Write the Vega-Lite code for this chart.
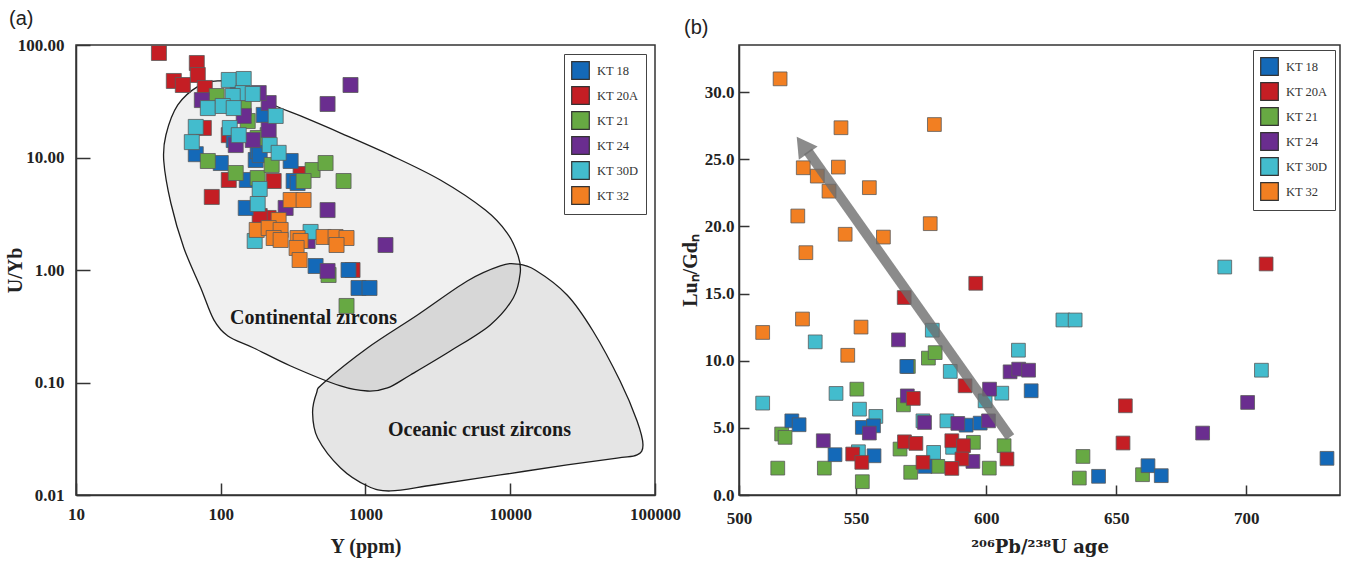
{
  "$schema": "https://vega.github.io/schema/vega-lite/v6.json",
  "background": "white",
  "padding": {"left": 4, "top": 8, "right": 5, "bottom": 5},
  "bounds": "flush",
  "spacing": 84,
  "datasets": {
    "zirconA": [
      {"s": "KT 20A", "Y": 37.4, "UYb": 84.9}, {"s": "KT 20A", "Y": 68.3, "UYb": 69.2}, {"s": "KT 20A", "Y": 69.4, "UYb": 54.1},
      {"s": "KT 20A", "Y": 47.4, "UYb": 47.9}, {"s": "KT 20A", "Y": 54.7, "UYb": 44.1}, {"s": "KT 20A", "Y": 77.6, "UYb": 41.5},
      {"s": "KT 20A", "Y": 76.4, "UYb": 18.3}, {"s": "KT 20A", "Y": 113.6, "UYb": 15.8}, {"s": "KT 20A", "Y": 113.6, "UYb": 6.31},
      {"s": "KT 20A", "Y": 232.1, "UYb": 6.18}, {"s": "KT 20A", "Y": 86.7, "UYb": 4.46}, {"s": "KT 20A", "Y": 356.2, "UYb": 7.13},
      {"s": "KT 20A", "Y": 813.6, "UYb": 1.0}, {"s": "KT 20A", "Y": 214.3, "UYb": 2.9}, {"s": "KT 20A", "Y": 185.8, "UYb": 3.02},
      {"s": "KT 18", "Y": 67.2, "UYb": 10.7}, {"s": "KT 18", "Y": 100, "UYb": 8.93}, {"s": "KT 18", "Y": 151.2, "UYb": 6.31},
      {"s": "KT 18", "Y": 174.4, "UYb": 9.5}, {"s": "KT 18", "Y": 304, "UYb": 9.31}, {"s": "KT 18", "Y": 318.8, "UYb": 6.18},
      {"s": "KT 18", "Y": 148.8, "UYb": 3.56}, {"s": "KT 18", "Y": 198.1, "UYb": 23.9}, {"s": "KT 18", "Y": 122.9, "UYb": 14.3},
      {"s": "KT 18", "Y": 452, "UYb": 1.085}, {"s": "KT 18", "Y": 894.7, "UYb": 0.692}, {"s": "KT 18", "Y": 1066, "UYb": 0.692},
      {"s": "KT 18", "Y": 763.5, "UYb": 1.0}, {"s": "KT 18", "Y": 180, "UYb": 11.4}, {"s": "KT 18", "Y": 131, "UYb": 39.0},
      {"s": "KT 18", "Y": 339.6, "UYb": 5.93}, {"s": "KT 18", "Y": 185.8, "UYb": 10.5},
      {"s": "KT 21", "Y": 93.8, "UYb": 35.2}, {"s": "KT 21", "Y": 81.4, "UYb": 9.31}, {"s": "KT 21", "Y": 126.9, "UYb": 7.28},
      {"s": "KT 21", "Y": 180, "UYb": 6.57}, {"s": "KT 21", "Y": 224.8, "UYb": 8.58}, {"s": "KT 21", "Y": 431, "UYb": 7.74},
      {"s": "KT 21", "Y": 529.9, "UYb": 8.93}, {"s": "KT 21", "Y": 373.5, "UYb": 6.18}, {"s": "KT 21", "Y": 705.3, "UYb": 6.18},
      {"s": "KT 21", "Y": 153.6, "UYb": 21.1}, {"s": "KT 21", "Y": 211, "UYb": 15.8}, {"s": "KT 21", "Y": 144.1, "UYb": 27.5},
      {"s": "KT 21", "Y": 739.6, "UYb": 0.479}, {"s": "KT 21", "Y": 555.8, "UYb": 0.903}, {"s": "KT 21", "Y": 180, "UYb": 14.9},
      {"s": "KT 24", "Y": 74.0, "UYb": 32.4}, {"s": "KT 24", "Y": 788.1, "UYb": 44.1}, {"s": "KT 24", "Y": 547, "UYb": 29.9},
      {"s": "KT 24", "Y": 214.3, "UYb": 30.5}, {"s": "KT 24", "Y": 182.9, "UYb": 37.4}, {"s": "KT 24", "Y": 144.1, "UYb": 23.4},
      {"s": "KT 24", "Y": 214.3, "UYb": 17.6}, {"s": "KT 24", "Y": 166.3, "UYb": 14.3}, {"s": "KT 24", "Y": 126.9, "UYb": 12.9},
      {"s": "KT 24", "Y": 547, "UYb": 3.41}, {"s": "KT 24", "Y": 1374, "UYb": 1.668}, {"s": "KT 24", "Y": 280.7, "UYb": 3.56},
      {"s": "KT 24", "Y": 547, "UYb": 0.98}, {"s": "KT 24", "Y": 398.1, "UYb": 1.811},
      {"s": "KT 30D", "Y": 113.6, "UYb": 48.9}, {"s": "KT 30D", "Y": 144.1, "UYb": 49.9}, {"s": "KT 30D", "Y": 141.8, "UYb": 37.4},
      {"s": "KT 30D", "Y": 166.3, "UYb": 36.7}, {"s": "KT 30D", "Y": 121, "UYb": 35.2}, {"s": "KT 30D", "Y": 81.4, "UYb": 27.5},
      {"s": "KT 30D", "Y": 103.2, "UYb": 28.7}, {"s": "KT 30D", "Y": 122.9, "UYb": 27.5}, {"s": "KT 30D", "Y": 67.2, "UYb": 18.7},
      {"s": "KT 30D", "Y": 63.1, "UYb": 13.7}, {"s": "KT 30D", "Y": 239.6, "UYb": 23.4}, {"s": "KT 30D", "Y": 115.4, "UYb": 18.3},
      {"s": "KT 30D", "Y": 133.1, "UYb": 15.8}, {"s": "KT 30D", "Y": 217.8, "UYb": 12.9}, {"s": "KT 30D", "Y": 251.2, "UYb": 11.0},
      {"s": "KT 30D", "Y": 185.8, "UYb": 5.25}, {"s": "KT 30D", "Y": 180, "UYb": 3.86}, {"s": "KT 30D", "Y": 171.6, "UYb": 1.811},
      {"s": "KT 30D", "Y": 417.5, "UYb": 2.18},
      {"s": "KT 32", "Y": 304, "UYb": 4.19}, {"s": "KT 32", "Y": 373.5, "UYb": 4.19}, {"s": "KT 32", "Y": 251.2, "UYb": 2.78},
      {"s": "KT 32", "Y": 177.2, "UYb": 2.27}, {"s": "KT 32", "Y": 214.3, "UYb": 2.36}, {"s": "KT 32", "Y": 259.3, "UYb": 2.27},
      {"s": "KT 32", "Y": 232.1, "UYb": 1.925}, {"s": "KT 32", "Y": 259.3, "UYb": 1.848}, {"s": "KT 32", "Y": 339.6, "UYb": 1.925},
      {"s": "KT 32", "Y": 356.2, "UYb": 1.811}, {"s": "KT 32", "Y": 334.3, "UYb": 1.569}, {"s": "KT 32", "Y": 350.6, "UYb": 1.227},
      {"s": "KT 32", "Y": 513.3, "UYb": 1.965}, {"s": "KT 32", "Y": 621, "UYb": 1.965}, {"s": "KT 32", "Y": 739.6, "UYb": 1.925},
      {"s": "KT 32", "Y": 631, "UYb": 1.668}
    ],
    "contA": [
      {"i": 0, "Y": 95.3, "UYb": 47.9}, {"i": 1, "Y": 123, "UYb": 45.0}, {"i": 2, "Y": 232, "UYb": 29.3},
      {"i": 3, "Y": 356, "UYb": 23.4}, {"i": 4, "Y": 673, "UYb": 16.5}, {"i": 5, "Y": 1486, "UYb": 10.5},
      {"i": 6, "Y": 3289, "UYb": 6.31}, {"i": 7, "Y": 6730, "UYb": 3.41}, {"i": 8, "Y": 9530, "UYb": 2.13},
      {"i": 9, "Y": 11350, "UYb": 1.33}, {"i": 10, "Y": 11720, "UYb": 0.94}, {"i": 11, "Y": 10490, "UYb": 0.564},
      {"i": 12, "Y": 7280, "UYb": 0.325}, {"i": 13, "Y": 3855, "UYb": 0.1905}, {"i": 14, "Y": 2042, "UYb": 0.1167},
      {"i": 15, "Y": 1419, "UYb": 0.0894}, {"i": 16, "Y": 1032, "UYb": 0.084}, {"i": 17, "Y": 673, "UYb": 0.0931},
      {"i": 18, "Y": 304, "UYb": 0.1402}, {"i": 19, "Y": 169, "UYb": 0.2027}, {"i": 20, "Y": 112, "UYb": 0.259},
      {"i": 21, "Y": 89.6, "UYb": 0.36}, {"i": 22, "Y": 72.8, "UYb": 0.692}, {"i": 23, "Y": 55.6, "UYb": 1.571},
      {"i": 24, "Y": 45.2, "UYb": 3.94}, {"i": 25, "Y": 40.4, "UYb": 9.31}, {"i": 26, "Y": 41.8, "UYb": 15.85},
      {"i": 27, "Y": 50.5, "UYb": 29.3}, {"i": 28, "Y": 70.5, "UYb": 43.3}
    ],
    "oceanA": [
      {"i": 0, "Y": 513, "UYb": 0.099}, {"i": 1, "Y": 1032, "UYb": 0.2027}, {"i": 2, "Y": 2286, "UYb": 0.398},
      {"i": 3, "Y": 5047, "UYb": 0.798}, {"i": 4, "Y": 8530, "UYb": 1.086}, {"i": 5, "Y": 11170, "UYb": 1.13},
      {"i": 6, "Y": 14860, "UYb": 1.0}, {"i": 7, "Y": 24700, "UYb": 0.6}, {"i": 8, "Y": 37300, "UYb": 0.287},
      {"i": 9, "Y": 57400, "UYb": 0.1031}, {"i": 10, "Y": 75200, "UYb": 0.0455}, {"i": 11, "Y": 82600, "UYb": 0.0278},
      {"i": 12, "Y": 75200, "UYb": 0.0227}, {"i": 13, "Y": 54700, "UYb": 0.0213}, {"i": 14, "Y": 24700, "UYb": 0.0185},
      {"i": 15, "Y": 8530, "UYb": 0.01507}, {"i": 16, "Y": 2944, "UYb": 0.01227}, {"i": 17, "Y": 1486, "UYb": 0.01086},
      {"i": 18, "Y": 1032, "UYb": 0.01202}, {"i": 19, "Y": 673, "UYb": 0.01738}, {"i": 20, "Y": 467, "UYb": 0.0321},
      {"i": 21, "Y": 431, "UYb": 0.0536}, {"i": 22, "Y": 459, "UYb": 0.0807}
    ],
    "labelsA": [
      {"t": "Continental zircons", "Y": 437.5, "UYb": 0.3745},
      {"t": "Oceanic crust zircons", "Y": 6133, "UYb": 0.03805}
    ],
    "zirconB": [
      {"s": "KT 32", "age": 520.8, "LuGd": 30.98}, {"s": "KT 32", "age": 544.2, "LuGd": 27.34}, {"s": "KT 32", "age": 580.1, "LuGd": 27.58},
      {"s": "KT 32", "age": 529.7, "LuGd": 24.36}, {"s": "KT 32", "age": 535.1, "LuGd": 23.74}, {"s": "KT 32", "age": 543.2, "LuGd": 24.41},
      {"s": "KT 32", "age": 539.6, "LuGd": 22.62}, {"s": "KT 32", "age": 555.1, "LuGd": 22.88}, {"s": "KT 32", "age": 527.6, "LuGd": 20.77},
      {"s": "KT 32", "age": 545.8, "LuGd": 19.41}, {"s": "KT 32", "age": 560.5, "LuGd": 19.2}, {"s": "KT 32", "age": 578.5, "LuGd": 20.2},
      {"s": "KT 32", "age": 530.7, "LuGd": 18.04}, {"s": "KT 32", "age": 514.1, "LuGd": 12.1}, {"s": "KT 32", "age": 529.4, "LuGd": 13.1},
      {"s": "KT 32", "age": 546.8, "LuGd": 10.4}, {"s": "KT 32", "age": 551.9, "LuGd": 12.5},
      {"s": "KT 30D", "age": 514.1, "LuGd": 6.84}, {"s": "KT 30D", "age": 534.3, "LuGd": 11.4}, {"s": "KT 30D", "age": 542.3, "LuGd": 7.56},
      {"s": "KT 30D", "age": 551.3, "LuGd": 6.39}, {"s": "KT 30D", "age": 557.6, "LuGd": 5.85}, {"s": "KT 30D", "age": 550.9, "LuGd": 3.22},
      {"s": "KT 30D", "age": 575.7, "LuGd": 5.52}, {"s": "KT 30D", "age": 579.8, "LuGd": 3.17}, {"s": "KT 30D", "age": 586.2, "LuGd": 9.2},
      {"s": "KT 30D", "age": 584.9, "LuGd": 5.52}, {"s": "KT 30D", "age": 587.1, "LuGd": 3.55}, {"s": "KT 30D", "age": 579.3, "LuGd": 12.27},
      {"s": "KT 30D", "age": 599.6, "LuGd": 7.01}, {"s": "KT 30D", "age": 606.0, "LuGd": 7.58}, {"s": "KT 30D", "age": 691.7, "LuGd": 16.97},
      {"s": "KT 30D", "age": 629.5, "LuGd": 13.03}, {"s": "KT 30D", "age": 634.2, "LuGd": 13.03}, {"s": "KT 30D", "age": 612.4, "LuGd": 10.78},
      {"s": "KT 30D", "age": 705.8, "LuGd": 9.29},
      {"s": "KT 21", "age": 521.4, "LuGd": 4.54}, {"s": "KT 21", "age": 522.7, "LuGd": 4.29}, {"s": "KT 21", "age": 519.9, "LuGd": 2.0},
      {"s": "KT 21", "age": 537.8, "LuGd": 2.0}, {"s": "KT 21", "age": 550.3, "LuGd": 7.88}, {"s": "KT 21", "age": 552.4, "LuGd": 0.99},
      {"s": "KT 21", "age": 566.9, "LuGd": 3.42}, {"s": "KT 21", "age": 568.2, "LuGd": 6.71}, {"s": "KT 21", "age": 570.1, "LuGd": 9.57},
      {"s": "KT 21", "age": 571.0, "LuGd": 1.69}, {"s": "KT 21", "age": 577.8, "LuGd": 10.19}, {"s": "KT 21", "age": 580.4, "LuGd": 10.6},
      {"s": "KT 21", "age": 581.4, "LuGd": 2.13}, {"s": "KT 21", "age": 595.1, "LuGd": 3.92}, {"s": "KT 21", "age": 601.2, "LuGd": 2.0},
      {"s": "KT 21", "age": 606.9, "LuGd": 3.67}, {"s": "KT 21", "age": 637.2, "LuGd": 2.87}, {"s": "KT 21", "age": 635.8, "LuGd": 1.26},
      {"s": "KT 21", "age": 660.1, "LuGd": 1.51},
      {"s": "KT 18", "age": 525.3, "LuGd": 5.52}, {"s": "KT 18", "age": 528.1, "LuGd": 5.23}, {"s": "KT 18", "age": 541.9, "LuGd": 3.0},
      {"s": "KT 18", "age": 552.4, "LuGd": 5.03}, {"s": "KT 18", "age": 556.7, "LuGd": 5.15}, {"s": "KT 18", "age": 556.9, "LuGd": 2.92},
      {"s": "KT 18", "age": 576.5, "LuGd": 2.13}, {"s": "KT 18", "age": 592.3, "LuGd": 5.2}, {"s": "KT 18", "age": 597.7, "LuGd": 5.35},
      {"s": "KT 18", "age": 617.3, "LuGd": 7.76}, {"s": "KT 18", "age": 662.2, "LuGd": 2.18}, {"s": "KT 18", "age": 643.2, "LuGd": 1.39},
      {"s": "KT 18", "age": 667.3, "LuGd": 1.44}, {"s": "KT 18", "age": 731.0, "LuGd": 2.73}, {"s": "KT 18", "age": 569.5, "LuGd": 9.57},
      {"s": "KT 24", "age": 537.4, "LuGd": 4.04}, {"s": "KT 24", "age": 555.1, "LuGd": 4.61}, {"s": "KT 24", "age": 566.3, "LuGd": 11.55},
      {"s": "KT 24", "age": 569.7, "LuGd": 7.38}, {"s": "KT 24", "age": 576.3, "LuGd": 5.4}, {"s": "KT 24", "age": 589.1, "LuGd": 5.33},
      {"s": "KT 24", "age": 594.9, "LuGd": 2.5}, {"s": "KT 24", "age": 600.9, "LuGd": 5.52}, {"s": "KT 24", "age": 601.3, "LuGd": 7.88},
      {"s": "KT 24", "age": 609.2, "LuGd": 9.17}, {"s": "KT 24", "age": 612.5, "LuGd": 9.37}, {"s": "KT 24", "age": 616.3, "LuGd": 9.29},
      {"s": "KT 24", "age": 700.5, "LuGd": 6.89}, {"s": "KT 24", "age": 683.2, "LuGd": 4.61},
      {"s": "KT 20A", "age": 568.5, "LuGd": 14.7}, {"s": "KT 20A", "age": 596.0, "LuGd": 15.76}, {"s": "KT 20A", "age": 572.0, "LuGd": 7.19},
      {"s": "KT 20A", "age": 568.6, "LuGd": 3.96}, {"s": "KT 20A", "age": 573.0, "LuGd": 3.84}, {"s": "KT 20A", "age": 548.7, "LuGd": 3.05},
      {"s": "KT 20A", "age": 552.2, "LuGd": 2.43}, {"s": "KT 20A", "age": 575.7, "LuGd": 2.43}, {"s": "KT 20A", "age": 586.8, "LuGd": 4.04},
      {"s": "KT 20A", "age": 591.3, "LuGd": 3.67}, {"s": "KT 20A", "age": 590.7, "LuGd": 2.68}, {"s": "KT 20A", "age": 586.8, "LuGd": 1.98},
      {"s": "KT 20A", "age": 591.9, "LuGd": 8.13}, {"s": "KT 20A", "age": 608.0, "LuGd": 2.68}, {"s": "KT 20A", "age": 707.6, "LuGd": 17.2},
      {"s": "KT 20A", "age": 653.5, "LuGd": 6.64}, {"s": "KT 20A", "age": 652.6, "LuGd": 3.87}
    ],
    "arrowB": [
      {"i": 0, "age": 609.2, "LuGd": 4.31},
      {"i": 1, "age": 531.5, "LuGd": 25.58}
    ],
    "headB": [
      {"age": 529.4, "LuGd": 26.06}
    ]
  },
  "hconcat": [
    {
      "width": 579,
      "height": 450,
      "title": {"text": "(a)", "anchor": "start", "frame": "group", "dx": -67, "offset": 7, "font": "Liberation Sans", "fontSize": 20, "fontWeight": "normal", "color": "#222"},
      "encoding": {
        "x": {"field": "Y", "type": "quantitative",
          "scale": {"type": "log", "domain": [10, 100000], "nice": false},
          "axis": {"values": [10, 100, 1000, 10000, 100000], "format": "d", "tickSize": -12, "labelPadding": 23, "labelFlush": false, "title": "Y (ppm)", "titlePadding": 14}},
        "y": {"field": "UYb", "type": "quantitative",
          "scale": {"type": "log", "domain": [0.01, 100], "nice": false},
          "axis": {"values": [0.01, 0.1, 1, 10, 100], "format": ".2f", "tickSize": -14, "labelPadding": 26, "title": "U/Yb", "titlePadding": -8}}
      },
      "layer": [
        {
          "data": {"name": "contA"},
          "mark": {"type": "line", "interpolate": "cardinal-closed", "fill": "#f0f0f0", "stroke": "#1e1e1e", "strokeWidth": 1.3},
          "encoding": {"order": {"field": "i", "type": "quantitative"}}
        },
        {
          "data": {"name": "oceanA"},
          "mark": {"type": "line", "interpolate": "cardinal-closed", "fill": "#000000", "fillOpacity": 0.1, "stroke": "#1e1e1e", "strokeWidth": 1.3},
          "encoding": {"order": {"field": "i", "type": "quantitative"}}
        },
        {
          "data": {"name": "labelsA"},
          "mark": {"type": "text", "font": "Liberation Serif", "fontSize": 20, "fontWeight": "bold", "color": "#1a1a1a", "align": "center", "baseline": "middle"},
          "encoding": {"text": {"field": "t", "type": "nominal"}}
        },
        {
          "data": {"name": "zirconA"},
          "mark": {"type": "point", "shape": "square", "filled": true, "size": 225, "stroke": "#5a5a5a", "strokeWidth": 0.8, "opacity": 1},
          "encoding": {
            "color": {"field": "s", "type": "nominal",
              "scale": {"domain": ["KT 18", "KT 20A", "KT 21", "KT 24", "KT 30D", "KT 32"], "range": ["#1469b8", "#c41e24", "#67a943", "#6a2d8f", "#43bccd", "#f27f22"]},
              "legend": {"title": null, "orient": "top-right", "offset": 9}}
          }
        }
      ]
    },
    {
      "width": 601,
      "height": 450,
      "title": {"text": "(b)", "anchor": "start", "frame": "group", "dx": -55, "offset": 7, "font": "Liberation Sans", "fontSize": 20, "fontWeight": "normal", "color": "#222"},
      "encoding": {
        "x": {"field": "age", "type": "quantitative",
          "scale": {"domain": [505, 736], "nice": false, "zero": false},
          "axis": {"values": [505, 550, 600, 650, 700], "format": "d", "labelExpr": "datum.value < 510 ? '500' : datum.label", "tickSize": -10, "labelPadding": 25, "labelFlush": false, "title": "²⁰⁶Pb/²³⁸U age", "titleFont": "DejaVu Serif", "titleFontSize": 18, "titlePadding": 12}},
        "y": {"field": "LuGd", "type": "quantitative",
          "scale": {"domain": [0, 33.5], "nice": false},
          "axis": {"values": [0, 5, 10, 15, 20, 25, 30], "format": ".1f", "tickSize": -10, "labelPadding": 15, "title": "Luₙ/Gdₙ", "titlePadding": 4}}
      },
      "layer": [
        {
          "data": {"name": "zirconB"},
          "mark": {"type": "point", "shape": "square", "filled": true, "size": 190, "stroke": "#5a5a5a", "strokeWidth": 0.8, "opacity": 1},
          "encoding": {
            "color": {"field": "s", "type": "nominal",
              "scale": {"domain": ["KT 18", "KT 20A", "KT 21", "KT 24", "KT 30D", "KT 32"], "range": ["#1469b8", "#c41e24", "#67a943", "#6a2d8f", "#43bccd", "#f27f22"]},
              "legend": {"title": null, "orient": "top-right", "offset": 5}}
          }
        },
        {
          "data": {"name": "arrowB"},
          "mark": {"type": "line", "color": "#6e6e6e", "strokeWidth": 10, "opacity": 0.8, "strokeCap": "butt"},
          "encoding": {"order": {"field": "i", "type": "quantitative"}}
        },
        {
          "data": {"name": "headB"},
          "mark": {"type": "point", "shape": "triangle-up", "angle": 324.7, "size": 529, "filled": true, "color": "#6e6e6e", "opacity": 0.8, "strokeWidth": 0}
        }
      ]
    }
  ],
  "resolve": {"scale": {"color": "independent"}, "legend": {"color": "independent"}},
  "config": {
    "view": {"stroke": "#333333", "strokeWidth": 1.5},
    "axis": {
      "grid": false,
      "domainColor": "#333333", "domainWidth": 1.5,
      "tickColor": "#333333", "tickWidth": 1.5,
      "labelFont": "Liberation Serif", "labelFontWeight": "bold", "labelFontSize": 17, "labelColor": "#222222",
      "titleFont": "Liberation Serif", "titleFontWeight": "bold", "titleFontSize": 20, "titleColor": "#222222"
    },
    "legend": {
      "fillColor": "white", "strokeColor": "#444444", "padding": 7, "rowPadding": 2,
      "symbolSize": 310, "symbolType": "square", "symbolStrokeColor": "#333333", "symbolStrokeWidth": 1.2, "symbolOpacity": 1,
      "labelFont": "Liberation Serif", "labelFontSize": 12.5, "labelColor": "#333333", "labelOffset": 7
    }
  }
}
